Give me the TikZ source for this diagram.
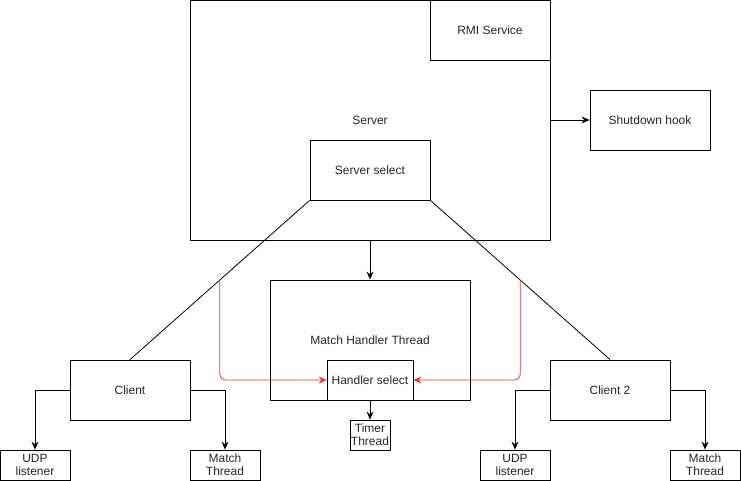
\documentclass[tikz,border=0pt]{standalone}
\usepackage{fontspec}
\setmainfont{Liberation Sans}
\usetikzlibrary{arrows.meta}
\definecolor{linkred}{RGB}{234,54,54}
\tikzset{
  box/.style = {rectangle, draw=black, line width=0.8pt, inner sep=0pt, align=center, text=black!85, font=\fontsize{12}{14}\selectfont},
  bigbox/.style = {box, minimum width=120pt, minimum height=60pt},
  leafbox/.style = {box, minimum width=70pt, minimum height=30pt, font=\fontsize{12}{13}\selectfont},
  link/.style = {draw=black, line width=0.8pt},
  flow/.style = {link, -{Stealth[length=8pt, width=7pt]}},
  redflow/.style = {draw=linkred, line width=0.8pt, rounded corners=6pt, -{Stealth[length=8pt, width=7pt]}}
}

\begin{document}
\begin{tikzpicture}[x=1pt, y=-1pt]
\useasboundingbox (0,0) rectangle (741,481);
% server side
\node [box, minimum width=360pt, minimum height=240pt] (server) at (370,120) {Server};
\node [bigbox] (rmi) at (490,30) {RMI Service};
\node [bigbox] (ssel) at (370,170) {Server select};
\node [bigbox] (shut) at (650,120) {Shutdown hook};
% match handler
\node [box, minimum width=200pt, minimum height=120pt] (mht) at (370,340) {Match Handler Thread};
\node [box, minimum width=86pt, minimum height=40pt] (hsel) at (370,380) {Handler select};
\node [box, minimum width=40pt, minimum height=30pt, font=\fontsize{12}{13}\selectfont] (timer) at (370,435) {Timer\\Thread};
% clients
\node [bigbox] (cl1) at (130,390) {Client};
\node [bigbox] (cl2) at (610,390) {Client 2};
\node [leafbox] (udp1) at (35,465) {UDP\\listener};
\node [leafbox] (mt1) at (225,465) {Match\\Thread};
\node [leafbox] (udp2) at (515,465) {UDP\\listener};
\node [leafbox] (mt2) at (705,465) {Match\\Thread};

\draw [flow] (server.east) -- (shut.west);
\draw [flow] (server.south) -- (mht.north);
\draw [flow] (hsel.south) -- (timer.north);
\draw [link] (ssel.south west) -- coordinate[pos=0.5] (lmid) (cl1.north);
\draw [link] (ssel.south east) -- coordinate[pos=0.5] (rmid) (cl2.north);
\draw [redflow] (lmid) |- (hsel.west);
\draw [redflow] (rmid) |- (hsel.east);
\draw [flow] (cl1.west) -| (udp1.north);
\draw [flow] (cl1.east) -| (mt1.north);
\draw [flow] (cl2.west) -| (udp2.north);
\draw [flow] (cl2.east) -| (mt2.north);
\end{tikzpicture}
\end{document}
